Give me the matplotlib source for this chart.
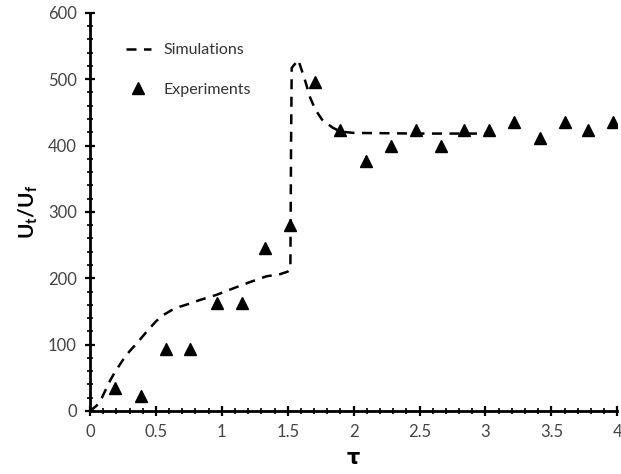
import numpy as np
import matplotlib.pyplot as plt
from matplotlib.ticker import MultipleLocator

# simulation curve (tau, Ut/Uf)
sim_tau = [0.0, 0.05, 0.09, 0.15, 0.19, 0.25, 0.30, 0.36, 0.44, 0.50, 0.56, 0.62,
           0.68, 0.76, 0.83, 0.96, 1.09, 1.21, 1.34, 1.44, 1.50, 1.52, 1.525,
           1.53, 1.58, 1.63, 1.67, 1.71, 1.76, 1.84, 1.90, 2.0, 2.5, 3.0]
sim_u = [0, 8, 20, 45, 59, 77, 90, 103, 122, 135, 145, 152,
         157, 162, 167, 175, 185, 194, 203, 206, 210, 214, 400,
         517, 529, 499, 472, 454, 439, 427, 421, 419, 418, 418]

# experimental points
exp_tau = [0.19, 0.39, 0.58, 0.76, 0.96, 1.15, 1.33, 1.52, 1.71, 1.90, 2.09, 2.28,
           2.47, 2.66, 2.84, 3.03, 3.22, 3.41, 3.60, 3.78, 3.97]
exp_u = [35, 22, 94, 94, 163, 163, 246, 280, 495, 424, 376, 400,
         424, 400, 424, 424, 436, 412, 436, 424, 436]

plt.rcParams['font.family'] = ['Lato', 'DejaVu Sans']

fig = plt.figure(figsize=(6.21, 4.74), dpi=100)
ax = fig.add_axes([0.145, 0.133, 0.849, 0.84])

ax.plot(sim_tau, sim_u, color='black', linestyle=(0, (4, 3)), linewidth=1.8,
        label='Simulations')
ax.plot(exp_tau, exp_u, linestyle='none', marker='^', color='black',
        markersize=8, label='Experiments')

ax.set_xlim(0, 4)
ax.set_ylim(0, 600)
ax.xaxis.set_major_locator(MultipleLocator(0.5))
ax.xaxis.set_minor_locator(MultipleLocator(0.1))
ax.yaxis.set_major_locator(MultipleLocator(100))
ax.yaxis.set_minor_locator(MultipleLocator(20))
ax.set_xticks([0, 0.5, 1, 1.5, 2, 2.5, 3, 3.5, 4])
ax.set_xticklabels(['0', '0.5', '1', '1.5', '2', '2.5', '3', '3.5', '4'])

for s in ['top', 'right']:
    ax.spines[s].set_visible(False)
for s in ['left', 'bottom']:
    ax.spines[s].set_linewidth(2)

ax.tick_params(which='major', direction='inout', length=7, width=1.6,
               labelsize=12, labelcolor='#444444', pad=6)
ax.tick_params(which='minor', direction='inout', length=4, width=1.2)

ax.set_xlabel('τ', fontsize=15, fontweight='bold', labelpad=6,
              family=['DejaVu Sans'])
ax.set_ylabel('U$_\\mathregular{t}$/U$_\\mathregular{f}$', fontsize=15,
              fontweight='bold', labelpad=6)

leg = ax.legend(loc='upper left', bbox_to_anchor=(0.04, 0.96), frameon=False,
                fontsize=11.5, handlelength=1.6, labelspacing=1.6)
for t in leg.get_texts():
    t.set_color('#333333')

fig.savefig('out.png', dpi=100)
